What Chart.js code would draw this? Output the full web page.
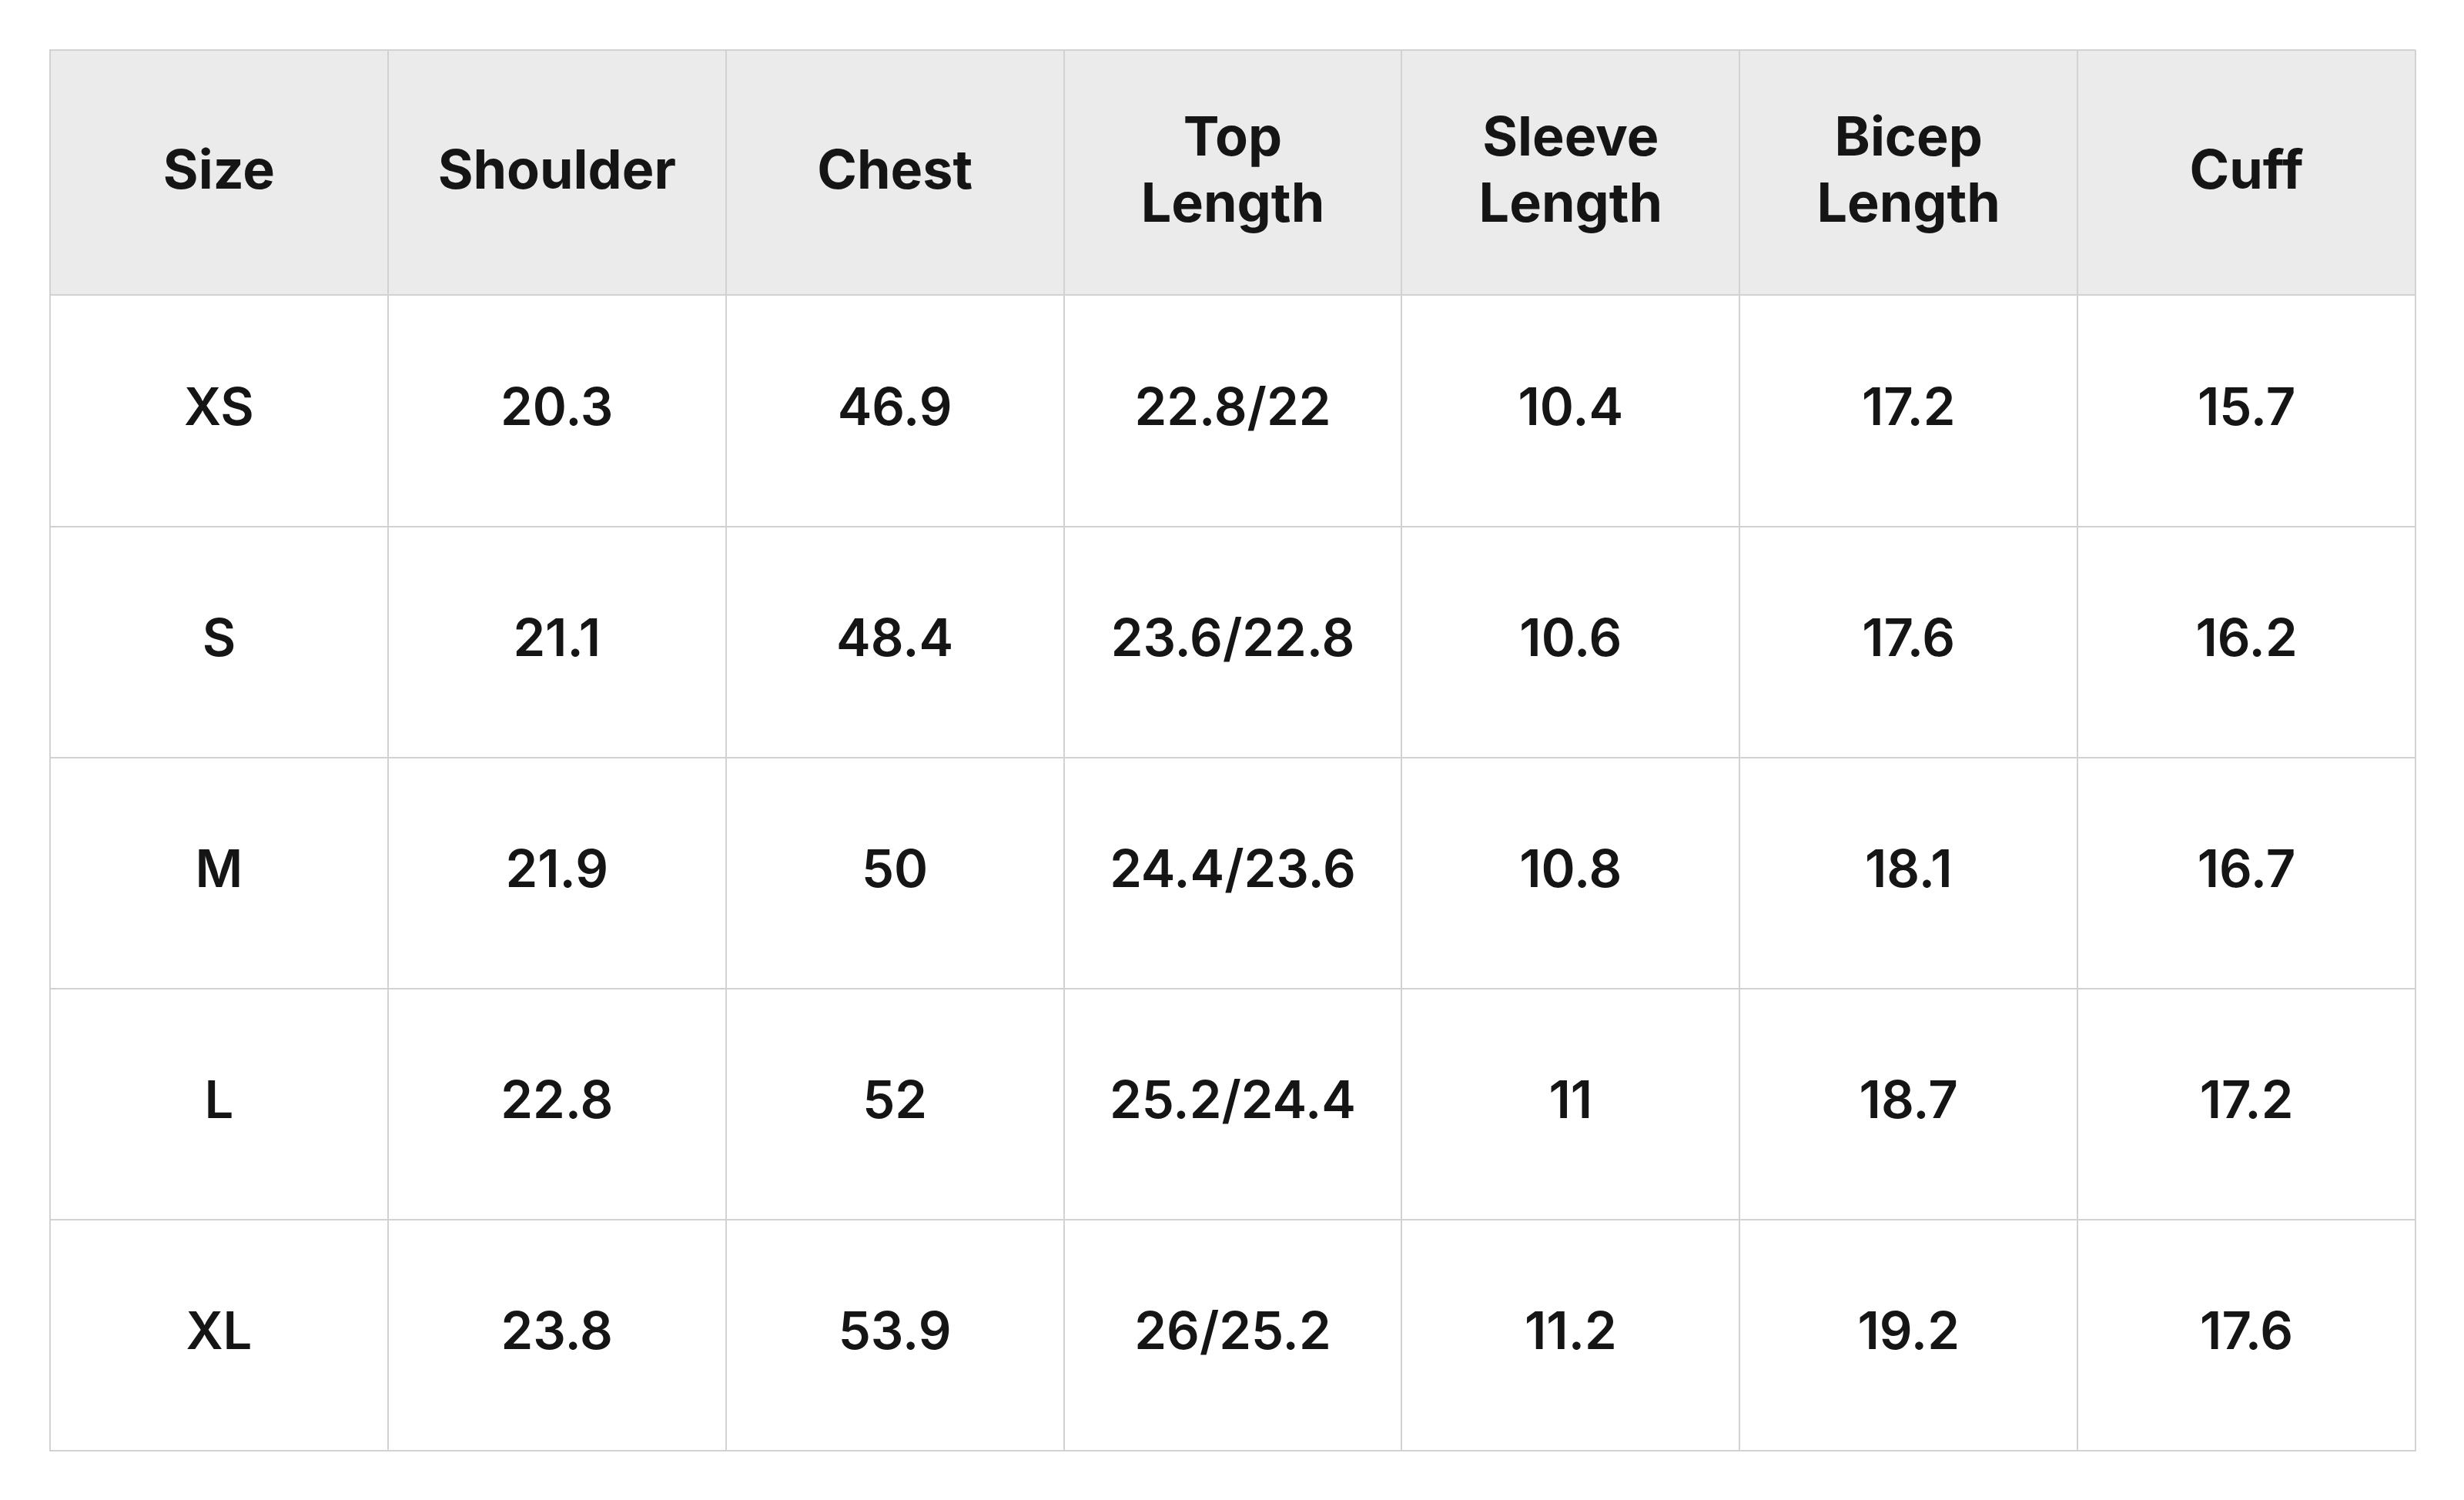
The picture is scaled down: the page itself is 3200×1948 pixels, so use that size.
<!DOCTYPE html>
<html><head><meta charset="utf-8">
<script src="https://cdn.jsdelivr.net/npm/chart.js@4"></script>
<style>html,body{margin:0;background:#fff}#c{display:block}</style>
</head><body>
<canvas id="c" width="3200" height="1948"></canvas>
<script>
const headers = [["Size"],["Shoulder"],["Chest"],["Top","Length"],["Sleeve","Length"],["Bicep","Length"],["Cuff"]];
const sizes = ["XS","S","M","L","XL"];
const shoulder = ["20.3","21.1","21.9","22.8","23.8"];
const chest = ["46.9","48.4","50","52","53.9"];
const topLength = ["22.8/22","23.6/22.8","24.4/23.6","25.2/24.4","26/25.2"];
const sleeveLength = ["10.4","10.6","10.8","11","11.2"];
const bicepLength = ["17.2","17.6","18.1","18.7","19.2"];
const cuff = ["15.7","16.2","16.7","17.2","17.6"];
const columns = [sizes, shoulder, chest, topLength, sleeveLength, bicepLength, cuff];
const HEAD = 156/147;

const tablePlugin = {
  id: 'table',
  beforeDraw(chart) {
    const {ctx, scales:{x,y}} = chart;
    ctx.save();
    ctx.fillStyle = '#ebebeb';
    ctx.fillRect(x.getPixelForValue(0), y.getPixelForValue(-HEAD), x.getPixelForValue(7)-x.getPixelForValue(0), y.getPixelForValue(0)-y.getPixelForValue(-HEAD));
    ctx.restore();
  },
  afterDatasetsDraw(chart) {
    const {ctx, scales:{x,y}} = chart;
    ctx.save();
    ctx.fillStyle = '#151515';
    ctx.textAlign = 'center'; ctx.textBaseline = 'middle';
    ctx.font = '700 70px Inter';
    headers.forEach((h,i)=>{
      const cx = x.getPixelForValue(i+0.5), cy = y.getPixelForValue(-HEAD/2);
      const lh = 86;
      h.forEach((t,j)=>ctx.fillText(t, cx, cy + (j-(h.length-1)/2)*lh));
    });
    ctx.font = '600 67px Inter';
    columns.forEach((col,i)=>col.forEach((v,r)=>{
      ctx.fillText(v, x.getPixelForValue(i+0.5), y.getPixelForValue(r+0.5)-2);
    }));
    ctx.restore();
  }
};

new Chart(document.getElementById('c'), {
  type: 'scatter',
  data: { datasets: [{ data: [] }] },
  plugins: [tablePlugin],
  options: {
    responsive:false, animation:false, devicePixelRatio:1,
    layout:{padding:{left:65,right:63,top:65,bottom:64}},
    plugins:{legend:{display:false},tooltip:{enabled:false}},
    scales:{
      x:{type:'linear',min:0,max:7,ticks:{display:false,stepSize:1},
        grid:{color:'#d2d2d2',lineWidth:2,drawTicks:false},border:{color:'#d2d2d2',width:2}},
      y:{type:'linear',reverse:true,min:-HEAD,max:5,
        afterBuildTicks(s){s.ticks=[-HEAD,0,1,2,3,4,5].map(v=>({value:v}));},
        ticks:{display:false},
        grid:{color:'#d2d2d2',lineWidth:2,drawTicks:false},border:{color:'#d2d2d2',width:2}}
    }
  }
});
</script>
</body></html>
